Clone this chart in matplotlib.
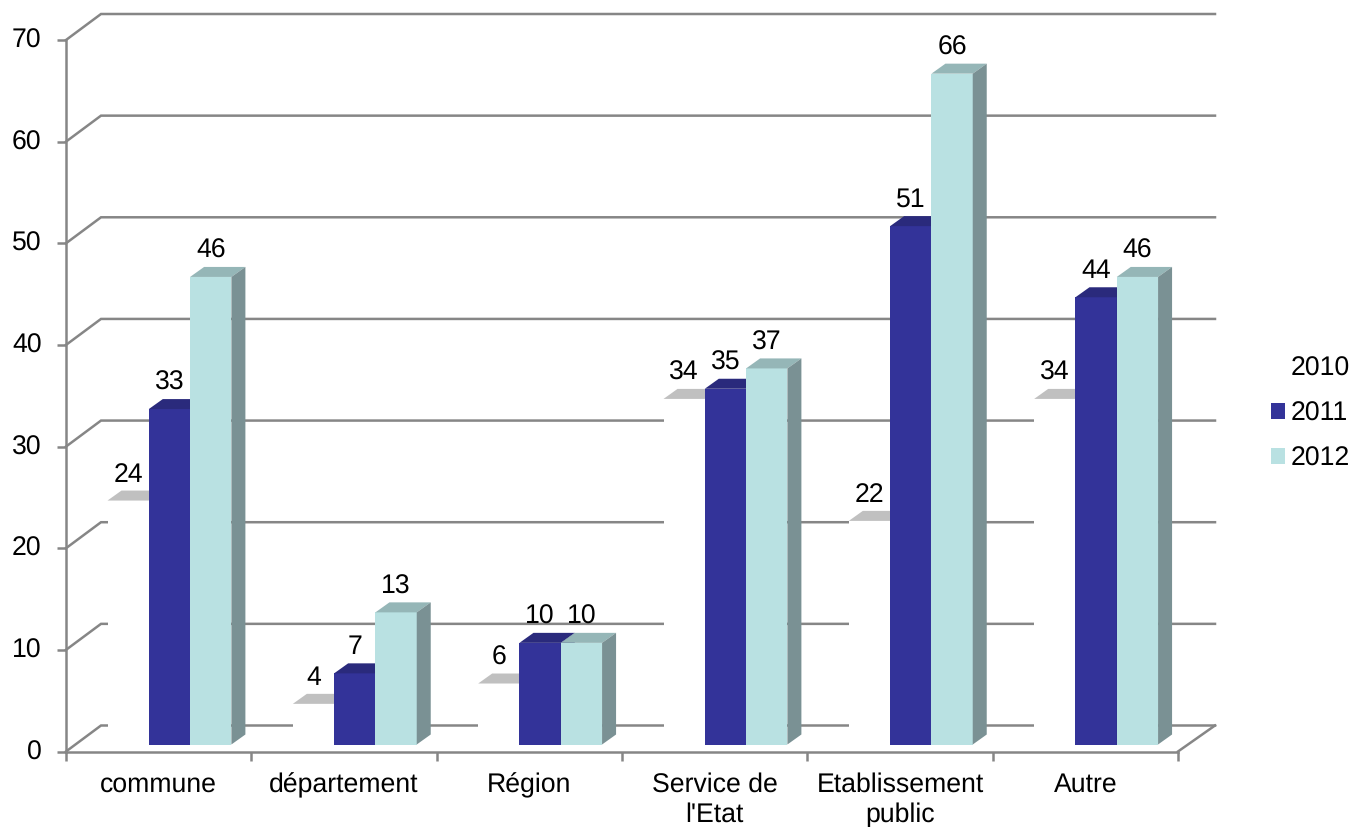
import numpy as np
import matplotlib
matplotlib.use("Agg")
import matplotlib.pyplot as plt
from matplotlib.patches import Patch, Polygon
from matplotlib.transforms import ScaledTranslation

# Data
categories = ["commune", "département", "Région", "Service de\nl'Etat", "Etablissement\npublic", "Autre"]
years = ["2010", "2011", "2012"]
values_2010 = [24, 4, 6, 34, 22, 34]
values_2011 = [33, 7, 10, 35, 51, 44]
values_2012 = [46, 13, 10, 37, 66, 46]
y_ticks = [0, 10, 20, 30, 40, 50, 60, 70]

# Colours: front, top, side
colors = {
    "2010": ("white", "#C0C0C0", "white"),
    "2011": ("#333399", "#2A2A7C", "#2A2A7C"),
    "2012": ("#B9E1E2", "#95B6B7", "#7A9194"),
}
grey = "#868686"

W, H = 1352, 827
font_size = 19.2
line_w = 1.8
plt.rcParams["font.family"] = ["Liberation Sans", "DejaVu Sans"]
plt.rcParams["text.hinting"] = "none"

fig = plt.figure(figsize=(W / 100, H / 100), dpi=100)
ax = fig.add_axes([66 / W, 1 - 751.5 / H, (1178 - 66) / W, (751.5 - 40) / H])
ax.set_xlim(0, 6)
ax.set_ylim(0, 70)

# size of one pixel in data units
px = 6 / (1178 - 66)
py = 70 / (751.5 - 40)

# Back wall and side lines
wall_left = 35 * px
wall_right = 37 * px
wall_up = 26 * py
for v in y_ticks:
    ax.plot([0, wall_left, 6 + wall_right], [v, v + wall_up, v + wall_up],
            color=grey, lw=line_w, clip_on=False, zorder=1, solid_joinstyle="miter")
ax.plot([6, 6 + wall_right], [0, wall_up], color=grey, lw=line_w, clip_on=False, zorder=1)

# 3D columns
bar_w = 41.3 * px
first_left = 41.5 * px
base = 7 * py
depth_x = 14 * px
depth_y = 10 * py
label_gap = 16 * py

series = [values_2010, values_2011, values_2012]
for i, (year, vals) in enumerate(zip(years, series)):
    front, top, side = colors[year]
    z = 2 + i
    lefts = np.arange(6) + first_left + i * bar_w
    ax.bar(lefts, vals, width=bar_w, bottom=base, align="edge", color=front, lw=0, zorder=z)
    for l, v in zip(lefts, vals):
        y = v + base
        r = l + bar_w
        ax.add_patch(Polygon([(l, y), (l + depth_x, y + depth_y), (r + depth_x, y + depth_y), (r, y)],
                             closed=True, fc=top, ec="none", zorder=z, clip_on=False))
        ax.add_patch(Polygon([(r, base), (r + depth_x, base + depth_y), (r + depth_x, y + depth_y), (r, y)],
                             closed=True, fc=side, ec="none", zorder=z, clip_on=False))
        ax.text(l + bar_w / 2, y + depth_y + label_gap, str(v), ha="center", va="center",
                fontsize=font_size, color="black", zorder=6)

# Axes
for s in ["top", "right"]:
    ax.spines[s].set_visible(False)
for s in ["left", "bottom"]:
    ax.spines[s].set_color(grey)
    ax.spines[s].set_linewidth(line_w)
    ax.spines[s].set_zorder(1.5)
ax.set_yticks(y_ticks)
ax.tick_params(axis="y", length=6.5, width=line_w, color=grey, labelsize=font_size, pad=11)
# tick labels sit a little above their ticks in the original
for lab in ax.get_yticklabels():
    lab.set_transform(lab.get_transform() + ScaledTranslation(0, 2 / 100, fig.dpi_scale_trans))
ax.set_xticks(range(7))
ax.set_xticklabels([])
ax.tick_params(axis="x", which="major", length=6.5, width=line_w, color=grey)
ax.set_xticks(np.arange(6) + 0.5, minor=True)
ax.set_xticklabels(categories, minor=True, fontsize=font_size, linespacing=1.25)
ax.tick_params(axis="x", which="minor", length=0, pad=15)

# Legend
handles = [Patch(fc=colors[y][0], ec="none", label=y) for y in years]
ax.legend(handles=handles, loc="upper left", bbox_to_anchor=(1271 / W, 1 - 356 / H),
          bbox_transform=fig.transFigure, frameon=False, fontsize=font_size,
          handlelength=0.52, handleheight=0.52, handletextpad=0.23,
          labelspacing=0.74, borderpad=0, borderaxespad=0)

fig.savefig("out.png", dpi=100)
